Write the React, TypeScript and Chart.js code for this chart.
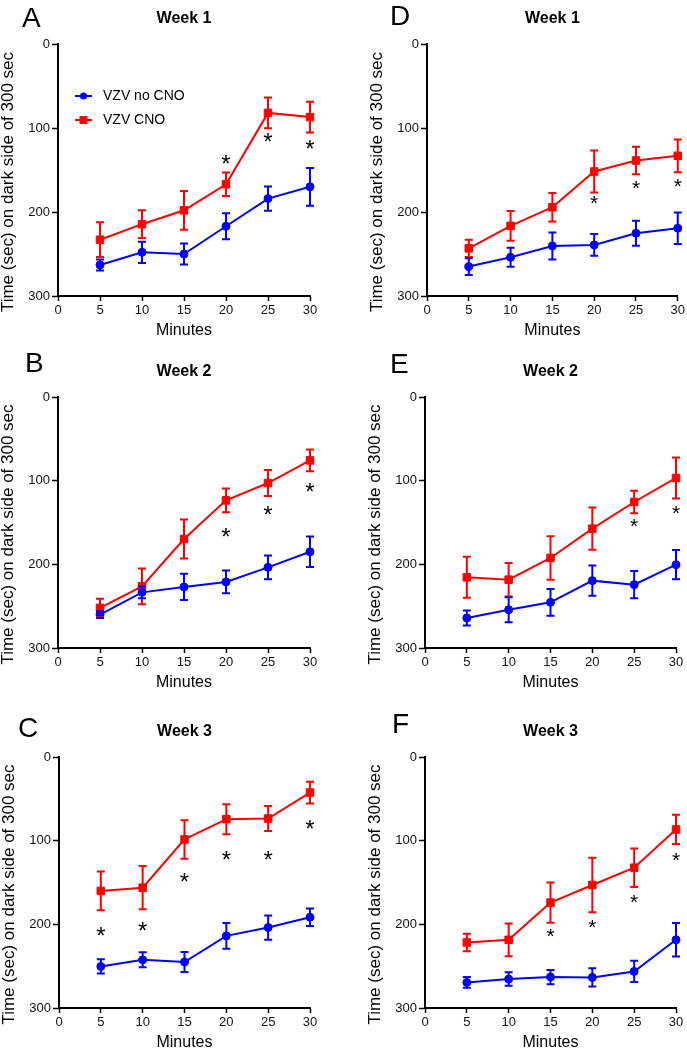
import React, { useEffect, useRef } from 'react';
import { Chart, registerables } from 'chart.js';

Chart.register(...registerables);

const FONT = "'Liberation Sans', Arial, Helvetica, sans-serif";
const BLUE = '#0000ff';
const RED = '#ff0000';

// ---------------- data ----------------
const minutes = [5, 10, 15, 20, 25, 30];
const xTickValues = [0, 5, 10, 15, 20, 25, 30];
const yTickValues = [0, 100, 200, 300];
const seriesLabels = ['VZV no CNO', 'VZV CNO'];
const xAxisTitle = 'Minutes';
const yAxisTitle = 'Time (sec) on dark side of 300 sec';
const panelLetters = ['A', 'B', 'C', 'D', 'E', 'F'];
const panelTitles = ['Week 1', 'Week 2', 'Week 3', 'Week 1', 'Week 2', 'Week 3'];

// Panel A
const aNoCno = [263, 248, 250, 217, 184, 170];
const aNoCnoErr = [6.5, 12.7, 12.5, 15.5, 14.5, 22.5];
const aCno = [233, 214.5, 198, 167, 82, 87];
const aCnoErr = [20.7, 16.5, 23, 14, 18.3, 18.3];
const aStarMinutes = [20, 25, 30];
const aStarValues = [136, 110, 118];

// Panel B
const bNoCno = [260, 233.5, 227, 221, 203.6, 185];
const bNoCnoErr = [4, 7, 15.7, 13.7, 14.3, 18.3];
const bCno = [252, 226.3, 169.7, 123.5, 102.8, 75.7];
const bCnoErr = [10.8, 21.3, 23.3, 14.1, 15.5, 13];
const bStarMinutes = [20, 25, 30];
const bStarValues = [160.6, 133.9, 106.8];

// Panel C
const cNoCno = [250.3, 242.4, 245.1, 213.8, 203.8, 191.5];
const cNoCnoErr = [8.5, 9, 12, 15.5, 14.5, 10.5];
const cCno = [160.1, 156.2, 98.5, 74.3, 73.5, 42.5];
const cCnoErr = [23.2, 25.8, 23, 17.9, 15, 13];
const cStarMinutes = [5, 10, 15, 20, 25, 30];
const cStarValues = [206.6, 200.6, 143, 116, 116, 79.5];

// Panel D
const dNoCno = [265, 253.9, 240.4, 239.2, 225.3, 219.3];
const dNoCnoErr = [10, 11.3, 16, 13, 15, 18.7];
const dCno = [243.2, 216.5, 194.3, 151.8, 138.7, 133.1];
const dCnoErr = [10.3, 17.7, 17, 25, 16.5, 19.5];
const dStarMinutes = [20, 25, 30];
const dStarValues = [183.6, 164.9, 162.9];

// Panel E
const eNoCno = [264.1, 254.2, 245.4, 219.5, 224.3, 200.4];
const eNoCnoErr = [9, 15, 16, 18, 16.3, 17.5];
const eCno = [215.5, 218.3, 192.4, 157.4, 125.5, 96.8];
const eCnoErr = [24.5, 20, 26, 25.3, 13.5, 24.5];
const eStarMinutes = [25, 30];
const eStarValues = [148.6, 132.7];

// Panel F
const fNoCno = [269.4, 265.4, 263, 263.4, 256.3, 218.5];
const fNoCnoErr = [6.5, 8, 8.5, 11, 12.7, 20];
const fCno = [221.7, 218.5, 174, 153, 132.3, 86.6];
const fCnoErr = [10.5, 19.5, 24, 32.5, 23, 17.5];
const fStarMinutes = [15, 20, 25, 30];
const fStarValues = [207.4, 196.7, 167.7, 117.2];

const panelData = [
  { noCno: aNoCno, noCnoErr: aNoCnoErr, cno: aCno, cnoErr: aCnoErr, starX: aStarMinutes, starY: aStarValues },
  { noCno: bNoCno, noCnoErr: bNoCnoErr, cno: bCno, cnoErr: bCnoErr, starX: bStarMinutes, starY: bStarValues },
  { noCno: cNoCno, noCnoErr: cNoCnoErr, cno: cCno, cnoErr: cCnoErr, starX: cStarMinutes, starY: cStarValues },
  { noCno: dNoCno, noCnoErr: dNoCnoErr, cno: dCno, cnoErr: dCnoErr, starX: dStarMinutes, starY: dStarValues },
  { noCno: eNoCno, noCnoErr: eNoCnoErr, cno: eCno, cnoErr: eCnoErr, starX: eStarMinutes, starY: eStarValues },
  { noCno: fNoCno, noCnoErr: fNoCnoErr, cno: fCno, cnoErr: fCnoErr, starX: fStarMinutes, starY: fStarValues },
];

// ---------------- layout (page pixels) ----------------
const TOP_OFFSET = 50;
const XAXIS_H = 45;
const boxes = [
  { cl: 0, cw: 343, pl: 58, pr: 310, pt: 44, pb: 296, lx: 22, ly: 26.7, star: 24, legend: true },
  { cl: 0, cw: 343, pl: 58, pr: 310, pt: 397, pb: 648, lx: 25, ly: 371.5, star: 24, legend: false },
  { cl: 0, cw: 343, pl: 59, pr: 310, pt: 757, pb: 1008, lx: 18, ly: 736.5, star: 24, legend: false },
  { cl: 343, cw: 344, pl: 427, pr: 678, pt: 44, pb: 296, lx: 390, ly: 25, star: 21, legend: false },
  { cl: 343, cw: 344, pl: 425, pr: 676, pt: 397, pb: 648, lx: 390, ly: 373, star: 21, legend: false },
  { cl: 343, cw: 344, pl: 425, pr: 676, pt: 757, pb: 1008, lx: 392, ly: 733, star: 21, legend: false },
];

function Panel({ index }: { index: number }) {
  const ref = useRef<HTMLCanvasElement>(null);
  const box = boxes[index];
  const ct = box.pt - TOP_OFFSET;
  const ch = box.pb - box.pt + TOP_OFFSET + XAXIS_H;

  useEffect(() => {
    const d = panelData[index];
    const errorPlugin = {
      id: 'errs',
      afterDatasetsDraw(chart: any) {
        const ctx = chart.ctx;
        const xs = chart.scales.x;
        const ys = chart.scales.y;
        const sets = [
          { vals: d.cno, errs: d.cnoErr, color: RED },
          { vals: d.noCno, errs: d.noCnoErr, color: BLUE },
        ];
        ctx.save();
        ctx.lineWidth = 2;
        sets.forEach((s) => {
          ctx.strokeStyle = s.color;
          minutes.forEach((m, i) => {
            const px = xs.getPixelForValue(m);
            const y1 = ys.getPixelForValue(s.vals[i] - s.errs[i]);
            const y2 = ys.getPixelForValue(s.vals[i] + s.errs[i]);
            ctx.beginPath();
            ctx.moveTo(px, y1);
            ctx.lineTo(px, y2);
            ctx.moveTo(px - 4, y1);
            ctx.lineTo(px + 4, y1);
            ctx.moveTo(px - 4, y2);
            ctx.lineTo(px + 4, y2);
            ctx.stroke();
          });
        });
        // asterisks
        ctx.fillStyle = '#000';
        ctx.font = `${box.star}px ${FONT}`;
        ctx.textAlign = 'center';
        ctx.textBaseline = 'alphabetic';
        d.starX.forEach((m, i) => {
          const px = xs.getPixelForValue(m);
          const py = ys.getPixelForValue(d.starY[i]);
          ctx.fillText('*', px, py + 0.577 * box.star);
        });
        ctx.restore();
      },
    };
    const textPlugin = {
      id: 'texts',
      afterDraw(chart: any) {
        const ctx = chart.ctx;
        const a = chart.chartArea;
        ctx.save();
        ctx.fillStyle = '#000';
        // panel letter
        ctx.font = `28px ${FONT}`;
        ctx.textAlign = 'left';
        ctx.textBaseline = 'alphabetic';
        ctx.fillText(panelLetters[index], box.lx - box.cl, box.ly - ct);
        // y axis title
        ctx.font = `17px ${FONT}`;
        ctx.textAlign = 'center';
        ctx.textBaseline = 'middle';
        ctx.translate(a.left - 50, (a.top + a.bottom) / 2 + 12);
        ctx.rotate(-Math.PI / 2);
        ctx.fillText(yAxisTitle, 0, 0);
        ctx.restore();
        if (box.legend) {
          ctx.save();
          const rows = [
            { label: seriesLabels[0], color: BLUE, shape: 'circle' },
            { label: seriesLabels[1], color: RED, shape: 'rect' },
          ];
          rows.forEach((r, i) => {
            const y = a.top + 52 + i * 24;
            const x0 = a.left + 17;
            ctx.strokeStyle = r.color;
            ctx.fillStyle = r.color;
            ctx.lineWidth = 2;
            ctx.beginPath();
            ctx.moveTo(x0, y);
            ctx.lineTo(x0 + 17, y);
            ctx.stroke();
            ctx.beginPath();
            if (r.shape === 'circle') {
              ctx.arc(x0 + 8.5, y, 3.5, 0, Math.PI * 2);
              ctx.fill();
            } else {
              ctx.fillRect(x0 + 8.5 - 4, y - 4, 8, 8);
            }
            ctx.fillStyle = '#000';
            ctx.font = `14px ${FONT}`;
            ctx.textAlign = 'left';
            ctx.textBaseline = 'middle';
            ctx.fillText(r.label, x0 + 28, y);
          });
          ctx.restore();
        }
      },
    };

    const chart = new Chart(ref.current as HTMLCanvasElement, {
      type: 'line',
      data: {
        datasets: [
          {
            label: seriesLabels[0],
            data: minutes.map((m, i) => ({ x: m, y: d.noCno[i] })),
            borderColor: BLUE,
            backgroundColor: BLUE,
            borderWidth: 2,
            pointStyle: 'circle',
            pointRadius: 4,
            pointBackgroundColor: BLUE,
            pointBorderColor: BLUE,
            pointBorderWidth: 1,
            clip: false,
          } as any,
          {
            label: seriesLabels[1],
            data: minutes.map((m, i) => ({ x: m, y: d.cno[i] })),
            borderColor: RED,
            backgroundColor: RED,
            borderWidth: 2,
            pointStyle: 'rect',
            pointRadius: 5.3,
            pointBackgroundColor: RED,
            pointBorderColor: RED,
            pointBorderWidth: 1,
            clip: false,
          } as any,
        ],
      },
      options: {
        responsive: false,
        animation: false,
        devicePixelRatio: 1,
        layout: { padding: { left: 0, right: box.cl + box.cw - box.pr, top: 0, bottom: 0 } },
        plugins: {
          legend: { display: false },
          tooltip: { enabled: false },
          title: {
            display: true,
            text: panelTitles[index],
            fullSize: false,
            color: '#000',
            font: { family: FONT, size: 16, weight: 'bold', lineHeight: 1.2 },
            padding: { top: 15, bottom: 15.8 },
          },
        },
        scales: {
          x: {
            type: 'linear',
            position: 'bottom',
            min: 0,
            max: 30,
            afterBuildTicks: (s: any) => {
              s.ticks = xTickValues.map((v) => ({ value: v }));
            },
            afterFit: (s: any) => {
              s.height = XAXIS_H;
            },
            grid: {
              drawOnChartArea: false,
              drawTicks: true,
              tickLength: 5,
              tickColor: '#000',
              tickWidth: 1.5,
              color: '#000',
            },
            border: { display: true, color: '#000', width: 2 },
            ticks: {
              color: '#111',
              font: { family: FONT, size: 13 },
              padding: 2,
              maxRotation: 0,
              autoSkip: false,
            },
            title: {
              display: true,
              text: xAxisTitle,
              color: '#000',
              font: { family: FONT, size: 16, lineHeight: 1.2 },
              padding: { top: 0, bottom: 1 },
            },
          },
          y: {
            type: 'linear',
            reverse: true,
            min: 0,
            max: 300,
            afterBuildTicks: (s: any) => {
              s.ticks = yTickValues.map((v) => ({ value: v }));
            },
            afterFit: (s: any) => {
              s.width = box.pl - box.cl;
            },
            grid: {
              drawOnChartArea: false,
              drawTicks: true,
              tickLength: 6,
              tickColor: '#000',
              tickWidth: 1.5,
              color: '#000',
            },
            border: { display: true, color: '#000', width: 2 },
            ticks: {
              color: '#111',
              font: { family: FONT, size: 13 },
              padding: 2,
              autoSkip: false,
            },
          },
        },
      } as any,
      plugins: [errorPlugin, textPlugin],
    });
    return () => chart.destroy();
  }, [index]);

  return (
    <canvas
      ref={ref}
      width={box.cw}
      height={ch}
      style={{ position: 'absolute', left: box.cl, top: ct, width: box.cw, height: ch }}
    />
  );
}

export default function App() {
  return (
    <div
      style={{
        position: 'absolute',
        left: 0,
        top: 0,
        width: 687,
        height: 1050,
        overflow: 'hidden',
        background: '#fff',
      }}
    >
      {boxes.map((_, i) => (
        <Panel key={i} index={i} />
      ))}
    </div>
  );
}
